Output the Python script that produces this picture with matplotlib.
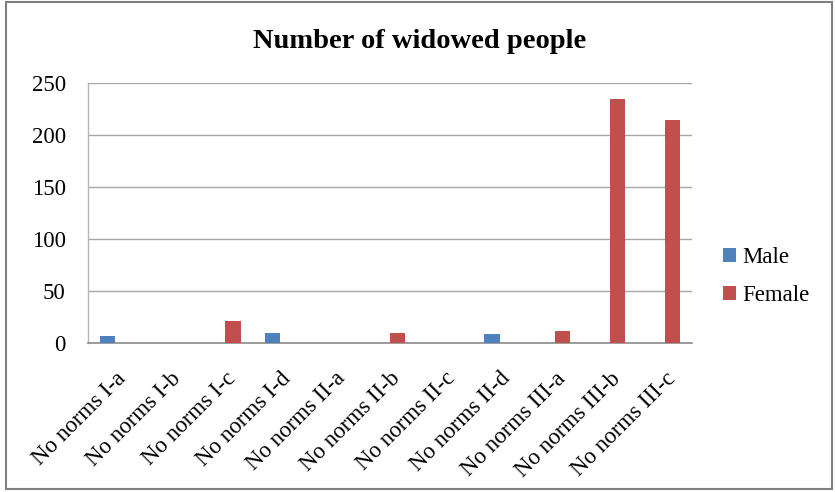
import numpy as np
import matplotlib.pyplot as plt
from matplotlib.patches import Rectangle

plt.rcParams['font.family'] = ['Liberation Serif', 'DejaVu Serif']

# Data
categories = ['No norms I-a', 'No norms I-b', 'No norms I-c', 'No norms I-d',
              'No norms II-a', 'No norms II-b', 'No norms II-c', 'No norms II-d',
              'No norms III-a', 'No norms III-b', 'No norms III-c']
male = [7, 0, 0, 10, 0, 0, 0, 9, 0, 0, 0]
female = [0, 0, 21, 0, 0, 10, 0, 0, 12, 235, 214]

fig = plt.figure(figsize=(8.35, 4.92), dpi=100)
ax = fig.add_axes([0.1054, 0.3028, 0.7233, 0.5285])

x = np.arange(len(categories))
w = 0.28
ax.bar(x - w / 2, male, width=w, color='#4F81BD', label='Male', zorder=3)
ax.bar(x + w / 2, female, width=w, color='#C0504D', label='Female', zorder=3)

ax.set_xlim(-0.5, len(categories) - 0.5)
ax.set_ylim(0, 250)
ax.set_yticks([0, 50, 100, 150, 200, 250])
ax.yaxis.grid(True, color='#a6a6a6', linewidth=1, zorder=0)
ax.set_axisbelow(True)

for s in ['top', 'right']:
    ax.spines[s].set_visible(False)
ax.spines['left'].set_color('#b4b4b4')
ax.spines['left'].set_linewidth(1)
ax.spines['bottom'].set_color('#8c8c8c')
ax.spines['bottom'].set_linewidth(1.2)

ax.set_xticks(x)
ax.set_xticklabels(categories, rotation=45, ha='right', rotation_mode='anchor', fontsize=16.5)
ax.tick_params(axis='both', length=0)
ax.tick_params(axis='y', labelsize=16.5, pad=16)
ax.tick_params(axis='x', pad=18)

fig.text(0.503, 0.915, 'Number of widowed people', ha='center', va='center',
         fontsize=20.5, fontweight='bold')

fig.legend(loc='center left', bbox_to_anchor=(0.866, 0.438), frameon=False,
           fontsize=16.5, handlelength=0.57, handleheight=0.57, handletextpad=0.25,
           labelspacing=0.75, borderpad=0, borderaxespad=0)

# outer frame like the exported chart
fig.patches.append(Rectangle((0.007, 0.006), 0.989, 0.99, transform=fig.transFigure,
                             fill=False, edgecolor='#7f7f7f', linewidth=1.5))

fig.savefig('out.png', dpi=100)
